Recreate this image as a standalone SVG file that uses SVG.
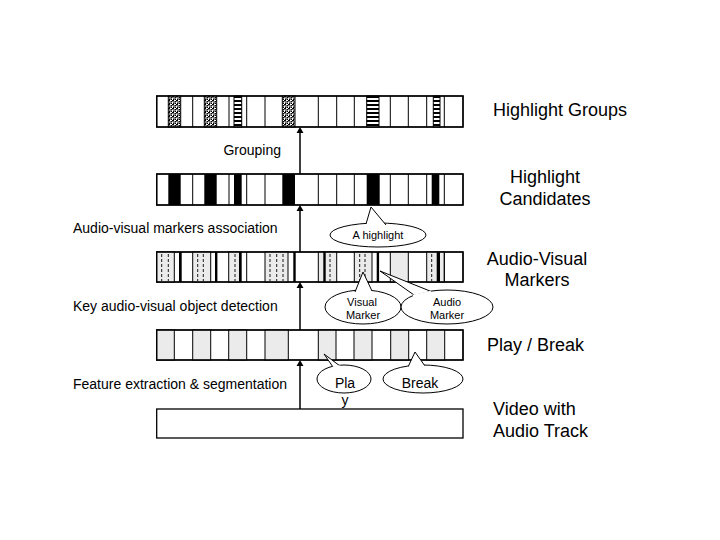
<svg xmlns="http://www.w3.org/2000/svg" width="720" height="540" viewBox="0 0 720 540">
<style>
.bar{fill:#fff;stroke:#000;stroke-width:1.3}
.ol{fill:none;stroke:#000;stroke-width:1.3}
.cl{stroke:#000;stroke-width:1;fill:none}
.g{fill:#ebebeb;stroke:#000;stroke-width:1}
.d{stroke:#000;stroke-width:0.9;stroke-dasharray:3,2}
.blk{fill:#000}
.lbl{font-family:"Liberation Sans",Arial,sans-serif;font-size:14px;fill:#000}
.rl{font-family:"Liberation Sans",Arial,sans-serif;font-size:18px;fill:#000}
.cs{font-family:"Liberation Sans",Arial,sans-serif;font-size:11px;fill:#000;text-anchor:middle}
.cb{font-family:"Liberation Sans",Arial,sans-serif;font-size:14px;fill:#000;text-anchor:middle}
.co{fill:#fff;stroke:#000;stroke-width:1}
.ax{stroke:#000;stroke-width:1.5}
</style>
<defs>
<pattern id="dots" width="4" height="4" patternUnits="userSpaceOnUse">
<rect width="4" height="4" fill="#fff"/>
<rect x="0" y="0" width="2" height="1.5" fill="#000"/>
<rect x="2.5" y="1" width="1.5" height="1.5" fill="#000"/>
<rect x="1" y="2.5" width="1.5" height="1.5" fill="#000"/>
<rect x="3" y="3" width="1" height="1" fill="#000"/>
</pattern>
<pattern id="stripes" width="4" height="4" patternUnits="userSpaceOnUse">
<rect width="4" height="4" fill="#fff"/>
<rect y="0" width="4" height="2" fill="#000"/>
</pattern>
</defs>

<g id="highlight-groups">
<rect class="bar" x="156.7" y="96" width="306.3" height="31"/>
<rect x="168.3" y="96" width="12.4" height="31" fill="url(#dots)" stroke="#000" stroke-width="1"/>
<rect x="204.3" y="96" width="12.4" height="31" fill="url(#dots)" stroke="#000" stroke-width="1"/>
<rect x="234" y="96" width="7.7" height="31" fill="url(#stripes)" stroke="#000" stroke-width="1"/>
<rect x="282.3" y="96" width="12.7" height="31" fill="url(#dots)" stroke="#000" stroke-width="1"/>
<rect x="366.7" y="96" width="12.3" height="31" fill="url(#stripes)" stroke="#000" stroke-width="1"/>
<rect x="433.3" y="96" width="6.7" height="31" fill="url(#stripes)" stroke="#000" stroke-width="1"/>
<path class="cl" d="M192.7 96V127M229 96V127M246.7 96V127M265 96V127M318.3 96V127M336.7 96V127M354.3 96V127M390.3 96V127M408.3 96V127M426.7 96V127M444.3 96V127"/>
<rect class="ol" x="156.7" y="96" width="306.3" height="31"/>
<text class="rl" x="493" y="116">Highlight Groups</text>
</g>

<g id="highlight-candidates">
<rect class="bar" x="156.7" y="174" width="306.3" height="31"/>
<rect class="blk" x="168.3" y="174" width="12.4" height="31"/>
<rect class="blk" x="204.3" y="174" width="12.4" height="31"/>
<rect class="blk" x="234" y="174" width="7.7" height="31"/>
<rect class="blk" x="282.3" y="174" width="12.7" height="31"/>
<rect class="blk" x="366.7" y="174" width="13" height="31"/>
<rect class="blk" x="431.7" y="174" width="7.6" height="31"/>
<path class="cl" d="M192.7 174V205M229 174V205M246.7 174V205M265 174V205M318.3 174V205M336.7 174V205M354.3 174V205M390.3 174V205M408.3 174V205M426.7 174V205M444.3 174V205"/>
<rect class="ol" x="156.7" y="174" width="306.3" height="31"/>
<text class="rl" x="545" y="183" text-anchor="middle">Highlight</text>
<text class="rl" x="545" y="205" text-anchor="middle">Candidates</text>
</g>

<g id="av-markers">
<rect class="bar" x="156.7" y="252" width="306.3" height="30"/>
<rect class="g" x="156.7" y="252" width="17.6" height="30"/>
<rect class="g" x="192.7" y="252" width="18" height="30"/>
<rect class="g" x="228.7" y="252" width="11" height="30"/>
<rect class="g" x="265" y="252" width="23" height="30"/>
<rect class="g" x="318.3" y="252" width="18.4" height="30"/>
<rect class="g" x="354.3" y="252" width="17.7" height="30"/>
<rect class="g" x="390.3" y="252" width="18" height="30"/>
<rect class="g" x="426.7" y="252" width="17.6" height="30"/>
<path class="d" d="M161.7 254V281M168.3 254V281M197.7 254V281M203.3 254V281M235 254V281M270 254V281M276.7 254V281M283 254V281M330 254V281M359.7 254V281M365 254V281M431.7 254V281"/>
<rect class="blk" x="179" y="252" width="2.7" height="30"/>
<rect class="blk" x="215" y="252" width="2.4" height="30"/>
<rect class="blk" x="239" y="252" width="2.7" height="30"/>
<rect class="blk" x="293.3" y="252" width="2.4" height="30"/>
<rect class="blk" x="323.3" y="252" width="2.4" height="30"/>
<rect class="blk" x="376.7" y="252" width="2.4" height="30"/>
<rect class="blk" x="436.7" y="252" width="3.3" height="30"/>
<path class="cl" d="M246.7 252V282M444.3 252V282"/>
<rect class="ol" x="156.7" y="252" width="306.3" height="30"/>
<text class="rl" x="537" y="265" text-anchor="middle">Audio-Visual</text>
<text class="rl" x="537" y="286" text-anchor="middle">Markers</text>
</g>

<g id="play-break">
<rect class="bar" x="156.7" y="330" width="306.3" height="30"/>
<rect class="g" x="156.7" y="330" width="17.6" height="30"/>
<rect class="g" x="192.7" y="330" width="18" height="30"/>
<rect class="g" x="228.7" y="330" width="18" height="30"/>
<rect class="g" x="265" y="330" width="23.3" height="30"/>
<rect class="g" x="318.3" y="330" width="17.7" height="30"/>
<rect class="g" x="354" y="330" width="18" height="30"/>
<rect class="g" x="390.7" y="330" width="18" height="30"/>
<rect class="g" x="426.7" y="330" width="18" height="30"/>
<rect class="ol" x="156.7" y="330" width="306.3" height="30"/>
<text class="rl" x="487" y="351">Play / Break</text>
</g>

<g id="video">
<rect class="bar" x="156.7" y="409" width="306.3" height="29"/>
<text class="rl" x="493" y="415">Video with</text>
<text class="rl" x="493" y="437">Audio Track</text>
</g>

<g id="connectors">
<path class="ax" d="M300 409V363M300 330V285M300 252V208M300 174V130"/>
<path d="M300 360l-3.5 6h7zM300 282l-3.5 6h7zM300 205l-3.5 6h7zM300 127l-3.5 6h7z" fill="#000"/>
</g>

<g id="step-labels">
<text class="lbl" x="281" y="155" text-anchor="end">Grouping</text>
<text class="lbl" x="73" y="233">Audio-visual markers association</text>
<text class="lbl" x="73" y="311">Key audio-visual object detection</text>
<text class="lbl" x="73" y="389">Feature extraction &amp; segmentation</text>
</g>

<g id="callout-highlight">
<ellipse class="co" cx="378" cy="235" rx="48" ry="12"/>
<path class="co" d="M366 224L371 207L386 225"/>
<path d="M365.5 225.5L386.5 226" stroke="#fff" stroke-width="2.2"/>
<text class="cs" x="378" y="239">A highlight</text>
</g>

<g id="callout-visual">
<ellipse class="co" cx="363" cy="307" rx="38" ry="17"/>
<path class="co" d="M355 292L363 272L372 291"/>
<path d="M354.5 293.5L372.5 292.5" stroke="#fff" stroke-width="2.5"/>
<text class="cs" x="362" y="306" font-size="10.5">Visual</text>
<text class="cs" x="363" y="319" font-size="10.5">Marker</text>
</g>

<g id="callout-audio">
<ellipse class="co" cx="447" cy="307" rx="46" ry="17"/>
<path class="co" d="M414 295L380 271L430 291"/>
<path d="M413 296L431 292" stroke="#fff" stroke-width="2.5"/>
<text class="cs" x="447" y="306" font-size="10.5">Audio</text>
<text class="cs" x="447" y="319" font-size="10.5">Marker</text>
</g>

<g id="callout-play">
<ellipse class="co" cx="344" cy="379" rx="27" ry="14"/>
<path class="co" d="M333 367L324 354L340 366"/>
<path d="M332.5 368L340.5 366.5" stroke="#fff" stroke-width="2.5"/>
<text class="cb" x="345" y="388">Pla</text>
<text class="cb" x="345" y="405">y</text>
</g>

<g id="callout-break">
<ellipse class="co" cx="423" cy="379" rx="40" ry="14"/>
<path class="co" d="M408 367L415 352L425 366"/>
<path d="M407.5 368L425.5 367" stroke="#fff" stroke-width="2.5"/>
<text class="cb" x="420" y="388">Break</text>
</g>
</svg>
